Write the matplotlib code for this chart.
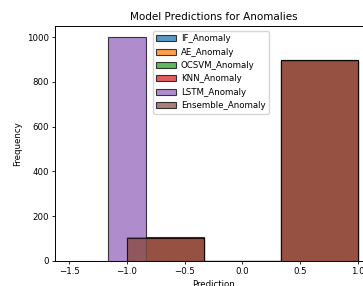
import numpy as np
import matplotlib
matplotlib.use("Agg")
import matplotlib.pyplot as plt

# model outputs: -1 = anomaly, 1 = normal
models = ["IF_Anomaly", "AE_Anomaly", "OCSVM_Anomaly", "KNN_Anomaly", "LSTM_Anomaly", "Ensemble_Anomaly"]
values = [-1, 1]
counts_neg = [100, 105, 102, 108, 1000, 103]
counts_pos = [900, 895, 898, 892, 0, 897]
colors = ["tab:blue", "tab:orange", "tab:green", "tab:red", "tab:purple", "tab:brown"]

fig = plt.figure(figsize=(3.63, 2.86), dpi=100)
W, H = 363, 286
ax = fig.add_axes([55 / W, 25 / H, 317 / W, 235 / H])

for name, n_neg, n_pos, c in zip(models, counts_neg, counts_pos, colors):
    preds = np.repeat(values, [n_neg, n_pos])
    ax.hist(preds, bins=3, color=c, alpha=0.75, edgecolor="black",
            linewidth=0.8, label=name)

ax.set_xlim(-1.625, 1.125)
ax.set_ylim(0, 1050)
ax.set_title("Model Predictions for Anomalies", fontsize=7.5, pad=4)
ax.set_xlabel("Prediction", fontsize=6.25, labelpad=3)
ax.set_ylabel("Frequency", fontsize=6.25, labelpad=3)
ax.tick_params(labelsize=6.25, length=2.5, width=0.6, pad=2)
for s in ax.spines.values():
    s.set_linewidth(0.7)
ax.legend(fontsize=6.25, loc="upper left", bbox_to_anchor=(0.309, 0.979),
          borderaxespad=0, handlelength=2.3, handletextpad=0.5, labelspacing=0.5)

fig.savefig("out.png", dpi=100)
